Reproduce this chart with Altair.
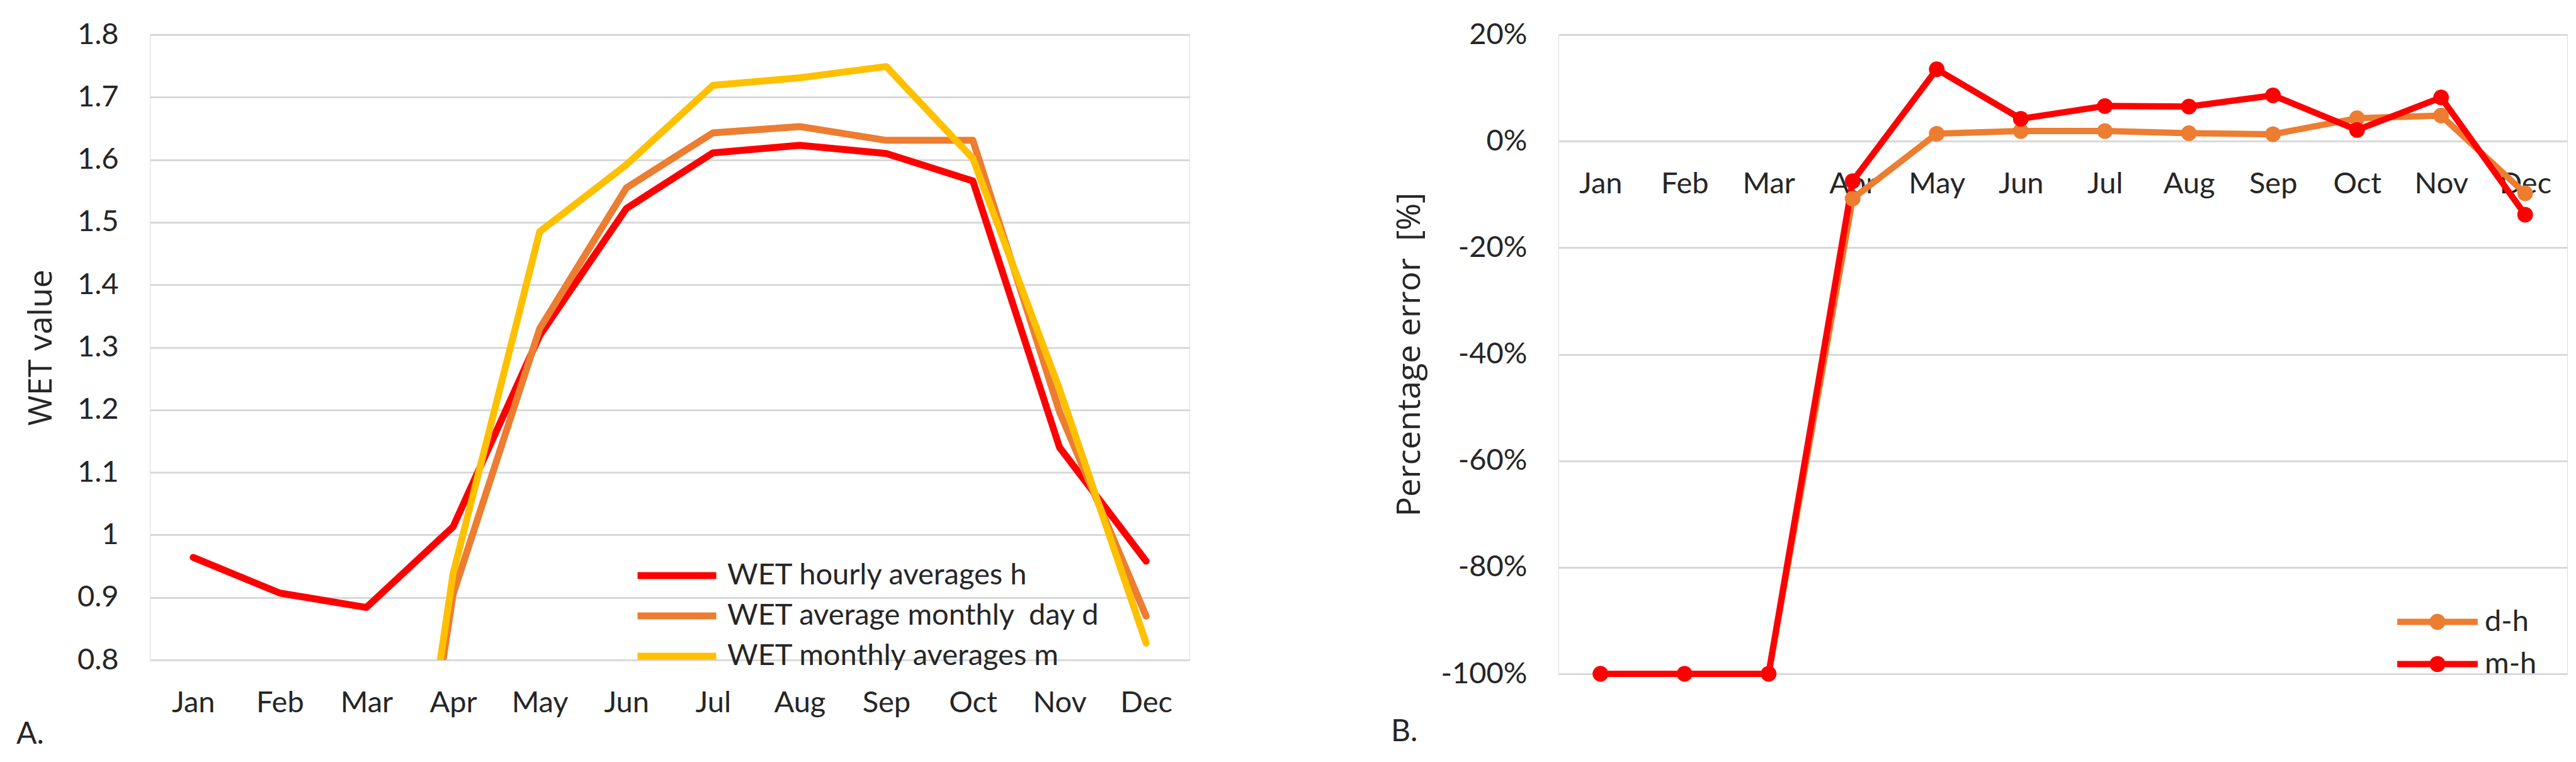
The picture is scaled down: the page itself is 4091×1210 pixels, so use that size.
import altair as alt
import pandas as pd

months = ["Jan", "Feb", "Mar", "Apr", "May", "Jun", "Jul", "Aug", "Sep", "Oct", "Nov", "Dec"]

# Panel A: WET values
series_a = ["WET hourly averages h", "WET average monthly\u00a0 day d", "WET monthly averages m"]
colors_a = ["#FF0000", "#ED7D31", "#FFC000"]
wet_h = [0.964, 0.907, 0.884, 1.013, 1.319, 1.522, 1.611, 1.623, 1.610, 1.566, 1.140, 0.958]
wet_d = [0.0, 0.0, 0.0, 0.905, 1.330, 1.555, 1.643, 1.653, 1.631, 1.631, 1.197, 0.870]
wet_m = [0.0, 0.0, 0.0, 0.938, 1.485, 1.592, 1.719, 1.731, 1.749, 1.602, 1.233, 0.827]
y_ticks_a = [0.8, 0.9, 1.0, 1.1, 1.2, 1.3, 1.4, 1.5, 1.6, 1.7, 1.8]

# Panel B: percentage errors
series_b = ["d-h", "m-h"]
colors_b = ["#ED7D31", "#FF0000"]
err_dh = [-100, -100, -100, -10.8, 1.4, 1.9, 1.9, 1.5, 1.3, 4.3, 4.8, -9.8]
err_mh = [-100, -100, -100, -7.5, 13.5, 4.2, 6.6, 6.5, 8.6, 2.1, 8.2, -13.8]
y_ticks_b = [20, 0, -20, -40, -60, -80, -100]

rows_a = []
for name, vals in zip(series_a, [wet_h, wet_d, wet_m]):
    for m, v in zip(months, vals):
        rows_a.append({"month": m, "value": v, "series": name})
df_a = pd.DataFrame(rows_a)

rows_b = []
for name, vals in zip(series_b, [err_dh, err_mh]):
    for m, v in zip(months, vals):
        rows_b.append({"month": m, "value": v, "series": name})
df_b = pd.DataFrame(rows_b)

TXT = "#262626"
LBL_FONT = "Lato"
LBL_SIZE = 47
TTL_FONT = "Open Sans"
TTL_SIZE = 52
GRID = "#D9D9D9"

WA, HA = 1651, 993
WB, HB = 1602, 1015

SYM = LBL_SIZE * LBL_SIZE  # legend symbol slot = label height

# ---------- Panel A ----------
xa = alt.X("month:N", sort=months, scale=alt.Scale(type="point", padding=0.5),
           axis=alt.Axis(title=None, labelAngle=0, labelFont=LBL_FONT, labelFontSize=LBL_SIZE,
                         labelColor=TXT, labelPadding=45, domain=False, ticks=False, grid=False))
ya = alt.Y("value:Q", scale=alt.Scale(domain=[0.8, 1.8], nice=False, zero=False),
           axis=alt.Axis(values=y_ticks_a, format="~g", title="WET value",
                         titleX=-173, titleY=HA / 2, titleAngle=270, titleAlign="center",
                         titleBaseline="middle", titleFont=TTL_FONT, titleFontSize=TTL_SIZE,
                         titleFontWeight="normal", titleColor=TXT,
                         labelFont=LBL_FONT, labelFontSize=LBL_SIZE, labelColor=TXT,
                         labelPadding=50, domain=False, ticks=False, grid=True,
                         gridColor=GRID, gridWidth=3))

line_sym_a = "M-2.66,0 L2.66,0"

lines_a = alt.Chart(df_a).mark_line(clip=True, strokeWidth=11, strokeJoin="round",
                                    strokeCap="round").encode(
    x=xa, y=ya,
    color=alt.Color("series:N", sort=series_a,
                    scale=alt.Scale(domain=series_a, range=colors_a),
                    legend=alt.Legend(title=None, orient="none", legendX=808, legendY=830,
                                      symbolType=line_sym_a, symbolSize=SYM,
                                      symbolStrokeWidth=11, labelFont=LBL_FONT,
                                      labelFontSize=LBL_SIZE, labelColor=TXT, labelOffset=51,
                                      labelLimit=2000, rowPadding=12, padding=0)),
)

tag_a = alt.Chart(pd.DataFrame({"t": ["A."]})).mark_text(
    align="left", baseline="middle", font=LBL_FONT, fontSize=48, color=TXT
).encode(text="t:N", x=alt.value(-212), y=alt.value(1112))

panel_a = alt.layer(lines_a, tag_a).properties(width=WA, height=HA)

# ---------- Panel B ----------
zero_from_top = HB * 20 / 120
xb = alt.X("month:N", sort=months, scale=alt.Scale(type="point", padding=0.5),
           axis=alt.Axis(title=None, labelAngle=0, labelFont=LBL_FONT, labelFontSize=LBL_SIZE,
                         labelColor=TXT, labelPadding=45, domain=False, ticks=False, grid=False,
                         offset=-(HB - zero_from_top)))
yb = alt.Y("value:Q", scale=alt.Scale(domain=[-100, 20], nice=False, zero=False),
           axis=alt.Axis(values=y_ticks_b, labelExpr="datum.value + '%'",
                         title="Percentage error\u00a0 [%]",
                         titleX=-237, titleY=HB / 2, titleAngle=270, titleAlign="center",
                         titleBaseline="middle", titleFont=TTL_FONT, titleFontSize=TTL_SIZE,
                         titleFontWeight="normal", titleColor=TXT,
                         labelFont=LBL_FONT, labelFontSize=LBL_SIZE, labelColor=TXT,
                         labelPadding=50, domain=False, ticks=False, grid=True,
                         gridColor=GRID, gridWidth=3))

cscale_b = alt.Scale(domain=series_b, range=colors_b)

# stroked legend symbol: a line with a small ring whose stroke fills into a dot
legend_path_b = ("M-2.72,0 L2.72,0 "
                 "M-0.33,0 A0.33,0.33 0 1,1 0.33,0 A0.33,0.33 0 1,1 -0.33,0 Z")

lines_b = alt.Chart(df_b).mark_line(strokeWidth=10, strokeJoin="round", strokeCap="round").encode(
    x=xb, y=yb,
    color=alt.Color("series:N", sort=series_b, scale=cscale_b,
                    legend=alt.Legend(title=None, orient="none", legendX=1367.5, legendY=904,
                                      symbolType=legend_path_b, symbolSize=SYM,
                                      symbolStrokeWidth=10, labelFont=LBL_FONT,
                                      labelFontSize=LBL_SIZE, labelColor=TXT, labelOffset=46.5,
                                      labelLimit=2000, rowPadding=10, padding=0)),
)

points_b = alt.Chart(df_b).mark_circle(size=620, opacity=1).encode(
    x=xb, y=yb,
    color=alt.Color("series:N", sort=series_b, scale=cscale_b, legend=None),
)

tag_b = alt.Chart(pd.DataFrame({"t": ["B."]})).mark_text(
    align="left", baseline="middle", font=LBL_FONT, fontSize=48, color=TXT
).encode(text="t:N", x=alt.value(-266), y=alt.value(1108))

panel_b = alt.layer(lines_b, points_b, tag_b).properties(width=WB, height=HB)

chart = alt.hconcat(panel_a, panel_b, spacing=586, bounds="flush").resolve_scale(
    color="independent"
).configure_view(stroke=None).configure(
    padding={"left": 17, "top": 22, "right": 5, "bottom": 5},
    background="white",
)

chart.save("out.html", embed_options={"renderer": "svg", "actions": False})
